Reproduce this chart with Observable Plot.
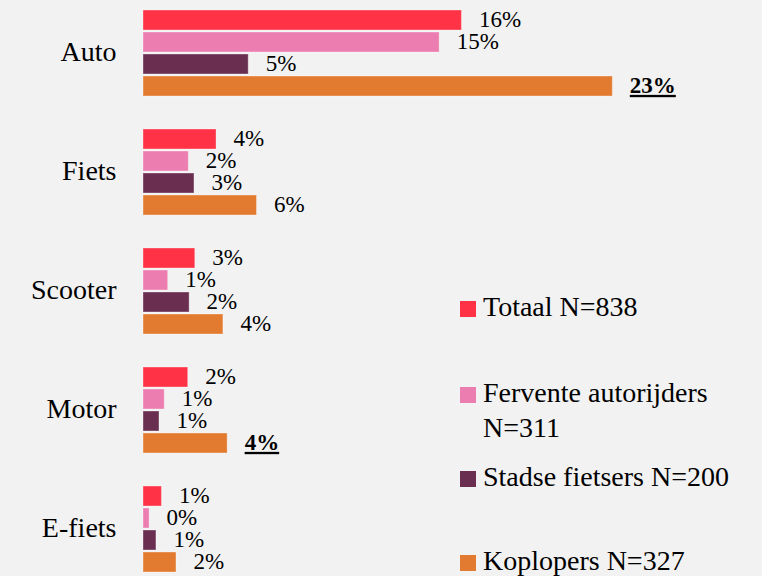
<!DOCTYPE html>
<html>
<head>
<meta charset="utf-8">
<script src="https://cdn.jsdelivr.net/npm/d3@7"></script>
<script src="https://cdn.jsdelivr.net/npm/@observablehq/plot@0.6"></script>
<style>
  html, body { margin: 0; padding: 0; background: #f2f2f2; }
  #wrap { position: relative; width: 762px; height: 576px; overflow: hidden; background: #f2f2f2; }
  #wrap svg { display: block; }
  #wrap svg text { font-family: "Liberation Serif", "Times New Roman", Tinos, "DejaVu Serif", serif; }
  g[aria-description="highlight"] text { text-decoration: underline; }
  .leg { position: absolute; font-family: "Liberation Serif", "Times New Roman", Tinos, "DejaVu Serif", serif; font-size: 28px; line-height: 35px; color: #000; white-space: nowrap; }
  .sw { position: absolute; width: 16px; height: 16px; }
</style>
</head>
<body>
<div id="wrap"></div>
<script>
const categories = ["Auto", "Fiets", "Scooter", "Motor", "E-fiets"];
const series = ["Totaal", "Fervente autorijders", "Stadse fietsers", "Koplopers"];
const legendLines = [["Totaal N=838"], ["Fervente autorijders", "N=311"], ["Stadse fietsers N=200"], ["Koplopers N=327"]];
const colors = ["#FF3246", "#EC7DB0", "#6A2E50", "#E27A2F"];
const totaal    = [15.74, 3.61, 2.56, 2.21, 0.91];
const fervente  = [14.64, 2.24, 1.22, 1.05, 0.30];
const stadse    = [5.20, 2.52, 2.28, 0.79, 0.64];
const koplopers = [23.20, 5.61, 3.95, 4.16, 1.63];
const highlighted = [["Auto", "Koplopers"], ["Motor", "Koplopers"]];

const seriesValues = [totaal, fervente, stadse, koplopers];
const data = [];
categories.forEach((c, i) => {
  series.forEach((s, j) => {
    data.push({category: c, series: s, value: seriesValues[j][i],
      hl: highlighted.some(h => h[0] === c && h[1] === s)});
  });
});
const fmt = d => `${Math.round(d.value)}%`;
const serifStack = "'Liberation Serif', 'Times New Roman', Tinos, 'DejaVu Serif', serif";

const chart = Plot.plot({
  width: 762,
  height: 576,
  marginTop: 7,
  marginBottom: 0,
  marginLeft: 143,
  marginRight: 0,
  style: {fontFamily: serifStack, background: "#f2f2f2", color: "#000", fontSize: "23px", overflow: "hidden"},
  x: {domain: [0, 30.6], axis: null},
  y: {domain: series, axis: null, paddingInner: 0.087, paddingOuter: 0},
  fy: {domain: categories, paddingInner: 0.25, paddingOuter: 0, label: null},
  color: {domain: series, range: colors},
  marks: [
    Plot.barX(data, {x: "value", y: "series", fy: "category", fill: "series", stroke: "#ffffff", strokeOpacity: 0.35, strokeWidth: 1}),
    Plot.text(data.filter(d => !d.hl), {x: "value", y: "series", fy: "category", text: fmt, dx: 17, dy: -1, textAnchor: "start", fontSize: 23, fill: "#000"}),
    Plot.text(data.filter(d => d.hl), {x: "value", y: "series", fy: "category", text: fmt, dx: 17, dy: -1, textAnchor: "start", fontSize: 23, fontWeight: "bold", fill: "#000", ariaDescription: "highlight"}),
    Plot.axisFy({anchor: "left", tickSize: 0, tickPadding: 27, fontSize: 28, dy: -2, label: null, fill: "#000"})
  ]
});
const wrap = document.getElementById("wrap");
wrap.appendChild(chart);

// legend (HTML overlay)
const legendTops = [289, 375, 459, 543];
series.forEach((s, j) => {
  const sw = document.createElement("div");
  sw.className = "sw";
  sw.style.left = "460px";
  sw.style.top = (legendTops[j] + 12) + "px";
  sw.style.background = colors[j];
  wrap.appendChild(sw);
  const t = document.createElement("div");
  t.className = "leg";
  t.style.left = "483px";
  t.style.top = legendTops[j] + "px";
  t.innerHTML = legendLines[j].join("<br>");
  wrap.appendChild(t);
});
</script>
</body>
</html>
